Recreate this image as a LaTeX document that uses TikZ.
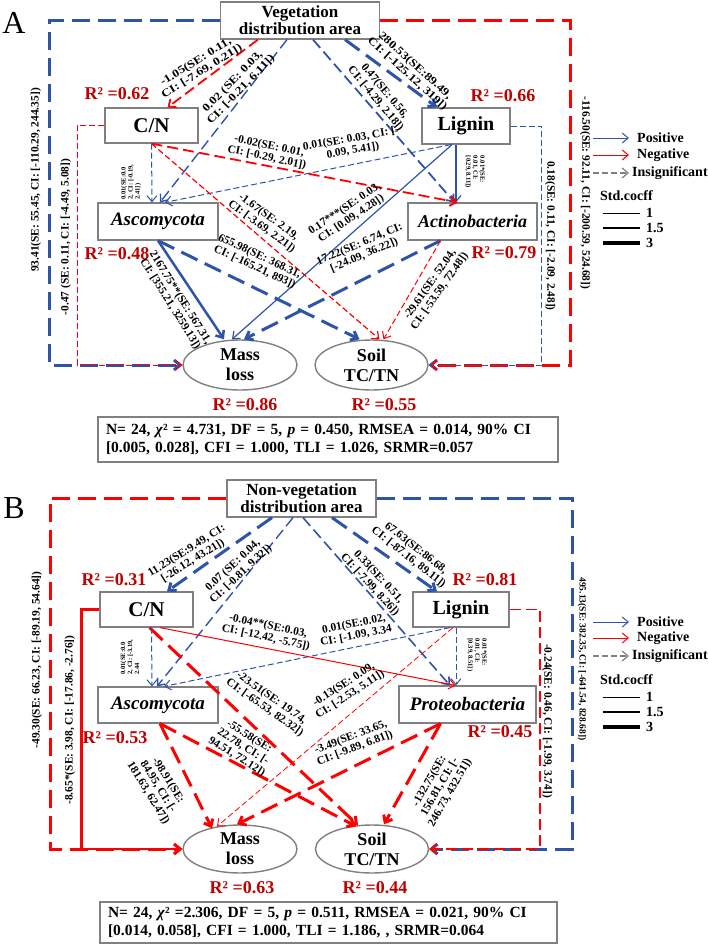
\documentclass[tikz,border=0pt]{standalone}
\usepackage{fontspec}
\setmainfont{Liberation Serif}
\newfontfamily\wfont[FakeStretch=1.2]{Liberation Serif}
\usetikzlibrary{arrows.meta,shapes.geometric,calc}
\definecolor{bl}{RGB}{46,84,168}
\definecolor{rd}{RGB}{255,0,0}
\definecolor{rt}{RGB}{192,0,0}
\definecolor{gb}{RGB}{128,128,128}
\begin{document}
\begin{tikzpicture}[x=1pt,y=-1pt, font=\bfseries,
 box/.style={draw=gb, line width=1.2pt, fill=white, inner sep=0pt, align=center},
 ell/.style={ellipse, draw=gb, line width=1.4pt, fill=white, inner sep=0pt, align=center, minimum width=114pt, minimum height=50pt, font=\bfseries\fontsize{18}{20}\selectfont},
 arr/.style={-{Straight Barb[length=6pt,width=10pt]}},
 thn/.style={line width=1pt},
 med/.style={line width=1.8pt},
 thk/.style={line width=3pt},
 dthn/.style={dash pattern=on 6pt off 3pt},
 dmed/.style={dash pattern=on 11pt off 5pt},
 dthk/.style={dash pattern=on 18pt off 8pt},
 lbl/.style={font=\bfseries\fontsize{11.4}{11.8}\selectfont, align=center, inner sep=0pt},
 wlbl/.style={font=\wfont\bfseries\fontsize{11}{11.5}\selectfont, align=center, inner sep=0pt},
 sml/.style={font=\bfseries\fontsize{6.5}{7}\selectfont, align=left, inner sep=0pt},
 rsq/.style={text=rt, font=\bfseries\fontsize{18}{18}\selectfont, inner sep=0pt},
 lg/.style={font=\bfseries\fontsize{14}{14}\selectfont, inner sep=0pt, anchor=west},
 stat/.style={draw=gb, line width=1.2pt, inner sep=0pt, align=left, font=\bfseries\fontsize{15.5}{18.5}\selectfont},
]
\useasboundingbox (0,0) rectangle (708,946);

%================ PANEL A =================
\node[font=\mdseries\fontsize{32}{32}\selectfont, inner sep=0pt] (labA) at (14,23) {A};
\node[box, minimum width=159pt, minimum height=37pt, font=\bfseries\fontsize{17}{17}\selectfont] (veg) at (300,20.5) {Vegetation\\distribution area};
\node[box, minimum width=93pt, minimum height=35pt, font=\bfseries\fontsize{21}{21}\selectfont] (cn) at (151.5,125.5) {C/N};
\node[box, minimum width=88pt, minimum height=36pt, font=\bfseries\fontsize{20}{20}\selectfont] (lig) at (466,126) {Lignin};
\node[box, minimum width=120pt, minimum height=37pt, font=\bfseries\itshape\fontsize{19}{19}\selectfont] (asco) at (158,221.5) {Ascomycota};
\node[box, minimum width=129pt, minimum height=37pt, font=\bfseries\itshape\fontsize{18}{18}\selectfont] (act) at (472.5,221.5) {Actinobacteria};
\node[ell] (ml) at (240,365) {Mass\\loss};
\node[ell, minimum width=113pt] (soil) at (371.5,365) {Soil\\TC/TN};

\node[rsq] (r1) at (117,94) {R² =0.62};
\node[rsq] (r2) at (503,96) {R² =0.66};
\node[rsq] (r3) at (117,254) {R² =0.48};
\node[rsq] (r4) at (504,253) {R² =0.79};
\node[rsq] (r5) at (245,405) {R² =0.86};
\node[rsq] (r6) at (384,405) {R² =0.55};

\node[stat, minimum width=460pt, minimum height=45pt, text width=444pt] (statA) at (328,439.5)
 {N= 24, \textit{χ}² = 4.731, DF = 5, \textit{p} = 0.450, RMSEA = 0.014, 90\% CI\\{[}0.005, 0.028{]}, CFI = 1.000, TLI = 1.026, SRMR=0.057};

% edges A
\draw[rd, med, dmed, arr] ($(veg.south)+(-42,0)$) -- ($(cn.north)+(16,0)$);
\draw[bl, line width=1.4pt, dmed, arr] ($(veg.south)+(-13,0)$) -- ($(asco.north)+(2,0)$);
\draw[bl, med, dmed, arr] ($(veg.south)+(13,0)$) -- ($(act.north)+(-18,0)$);
\draw[bl, thk, dthk, arr] ($(veg.south)+(45,0)$) -- ($(lig.north)+(-29,0)$);
\draw[bl, line width=1.2pt, arr] ($(lig.south)+(-10,0)$) -- ($(act.north)+(-16.5,0)$);
\draw[bl, thn, dthn, arr] ($(lig.south)+(-15,0)$) -- ($(asco.north)+(7,0)$);
\draw[bl, line width=1.2pt, arr] ($(lig.south)+(-14,0)$) -- ($(ml.north)+(-8,0)$);
\draw[bl, thk, dthk, arr] ($(act.south)+(-32,0)$) -- ($(ml.north)+(4,0)$);
\draw[rd, med, dmed, arr] (cn.south) -- ($(act.north)+(-15,0)$);
\draw[rd, line width=1.2pt, dthn, arr] (cn.south) -- ($(soil.north)+(8,0)$);
\draw[bl, thn, dthn, arr] (cn.south) -- ($(asco.north)+(-6,0)$);
\draw[bl, line width=2.5pt, arr] (asco.south) -- ($(ml.north)+(-16,0)$);
\draw[bl, thk, dthk, arr] (asco.south) -- ($(soil.north)+(-12,0)$);
\draw[rd, thn, dthn, arr] ($(act.south)+(-32,0)$) -- ($(soil.north)+(12,0)$);
\draw[bl, thk, dthk, arr] (veg.west) -| ($(ml.west)+(-133,0)$) -- (ml.west);
\draw[rd, thn, dthn, arr] (cn.west) -| ($(ml.west)+(-105,0)$) -- (ml.west);
\draw[rd, thk, dthk, arr] (veg.east) -| ($(soil.east)+(142,0)$) -- (soil.east);
\draw[bl, thn, dthn, arr] (lig.east) -| ($(soil.east)+(113,0)$) -- (soil.east);

% labels A
\node[wlbl, rotate=32] (e1) at (199,67) {-1.05(SE: 0.11,\\CI: {[}-7.69, 0.21{]})};
\node[wlbl, rotate=46] (e2) at (237,86) {0.02 (SE: 0.03,\\CI: {[}-0.21, 6.11{]})};
\node[wlbl, rotate=-42] (e3) at (411,70) {280.53(SE:89.49,\\CI: {[}-125.12, 319{]})};
\node[lbl, rotate=-50] (e4) at (380,95) {0.47(SE: 0.56,\\CI: {[}-4.29, 2.18{]})};
\node[sml, rotate=-90] (e5) at (475,172) {0.01*(SE:\\0.01, CI:\\{[}0.29, 8.11{]})};
\node[lbl, rotate=10] (e6) at (352,145) {0.01(SE: 0.03, CI: {[}-\\0.09, 5.41{]})};
\node[lbl, rotate=34] (e7) at (348,214) {0.17***(SE: 0.03,\\CI: {[}0.09, 4.28{]})};
\node[lbl, rotate=23] (e8) at (362,250) {17.22(SE: 6.74, CI:\\{[}-24.09, 36.22{]})};
\node[lbl, rotate=-12] (e9) at (268,152) {-0.02(SE: 0.01,\\CI: {[}-0.29, 2.01{]})};
\node[lbl, rotate=-36] (e10) at (265,222) {-1.67(SE: 2.19,\\CI: {[}-3.69, 2.21{]})};
\node[sml, rotate=90] (e11) at (131,182) {0.01(SE:0.0\\2, CI: {[}-0.19,\\2.41{]})};
\node[lbl, rotate=-58] (e12) at (175,301) {2167.75**(SE: 567.31,\\CI: {[}355.21, 3259.13{]})};
\node[lbl, rotate=-25] (e13) at (257,262) {655.98(SE: 368.31,\\CI: {[}-165.21, 893{]})};
\node[lbl, rotate=55] (e14) at (435,288) {-29.61(SE: 52.04,\\CI: {[}-53.59, 72.48{]})};
\node[lbl, rotate=90] (e15) at (36,180) {93.41(SE: 55.45, CI: {[}-110.29, 244.35{]})};
\node[lbl, rotate=90] (e16) at (66,237) {-0.47 (SE: 0.11, CI: {[}-4.49, 5.08{]})};
\node[lbl, rotate=-90] (e17) at (585,193) {-116.50(SE: 92.11, CI: {[}-200.59, 524.68{]})};
\node[lbl, rotate=-90] (e18) at (550,236) {0.18(SE: 0.11, CI: {[}-2.09, 2.48{]})};

% legend A
\node[lg] (lpA) at (637,138) {Positive};
\node[lg] (lnA) at (637,155) {Negative};
\node[lg] (liA) at (632,173) {Insignificant};
\node[lg] (lsA) at (600,196) {Std.cocff};
\node[lg] (l1A) at (646,213) {1};
\node[lg] (l2A) at (646,228) {1.5};
\node[lg] (l3A) at (646,243) {3};
\draw[bl, thn, arr] ($(lpA.west)+(-44,0)$) -- ($(lpA.west)+(-8,0)$);
\draw[rd, thn, arr] ($(lnA.west)+(-44,0)$) -- ($(lnA.west)+(-8,0)$);
\draw[gb, line width=1.2pt, dash pattern=on 6pt off 3pt, arr] ($(liA.west)+(-39,0)$) -- ($(liA.west)+(-3,0)$);
\draw[line width=1pt] ($(l1A.west)+(-43,0)$) -- ($(l1A.west)+(-6,0)$);
\draw[line width=2.5pt] ($(l2A.west)+(-43,0)$) -- ($(l2A.west)+(-6,0)$);
\draw[line width=4pt] ($(l3A.west)+(-43,0)$) -- ($(l3A.west)+(-6,0)$);

%================ PANEL B =================
\node[font=\mdseries\fontsize{32}{32}\selectfont, inner sep=0pt] (labB) at (14,508) {B};
\node[box, minimum width=149pt, minimum height=37pt, font=\bfseries\fontsize{17}{17}\selectfont] (nveg) at (301.5,498.5) {Non-vegetation\\distribution area};
\node[box, minimum width=93pt, minimum height=35pt, font=\bfseries\fontsize{21}{21}\selectfont] (cn2) at (146.5,609.5) {C/N};
\node[box, minimum width=96pt, minimum height=35pt, font=\bfseries\fontsize{20}{20}\selectfont] (lig2) at (461,609.5) {Lignin};
\node[box, minimum width=120pt, minimum height=36pt, font=\bfseries\itshape\fontsize{19}{19}\selectfont] (asco2) at (158,705) {Ascomycota};
\node[box, minimum width=137pt, minimum height=37pt, font=\bfseries\itshape\fontsize{19}{19}\selectfont] (prot2) at (467.5,704.5) {Proteobacteria};
\node[ell, minimum height=48pt] (ml2) at (240,849) {Mass\\loss};
\node[ell, minimum width=113pt, minimum height=48pt] (soil2) at (372,849) {Soil\\TC/TN};

\node[rsq] (s1) at (114,580) {R² =0.31};
\node[rsq] (s2) at (485,580) {R² =0.81};
\node[rsq] (s3) at (115,738) {R² =0.53};
\node[rsq] (s4) at (500,732) {R² =0.45};
\node[rsq] (s5) at (242,888) {R² =0.63};
\node[rsq] (s6) at (375,888) {R² =0.44};

\node[stat, minimum width=457pt, minimum height=41pt, text width=441pt] (statB) at (328.5,922.5)
 {N= 24, \textit{χ}² =2.306, DF = 5, \textit{p} = 0.511, RMSEA = 0.021, 90\% CI\\{[}0.014, 0.058{]}, CFI = 1.000, TLI = 1.186, , SRMR=0.064};

% edges B
\draw[bl, thk, dthk, arr] ($(nveg.south)+(-29.5,0)$) -- ($(cn2.north)+(20.5,0)$);
\draw[bl, line width=1.4pt, dmed, arr] ($(nveg.south)+(-8.5,0)$) -- ($(asco2.north)+(-1,0)$);
\draw[bl, thk, dthk, arr] ($(nveg.south)+(30.5,0)$) -- ($(lig2.north)+(-24,0)$);
\draw[bl, line width=1.6pt, dmed, arr] ($(nveg.south)+(1.5,0)$) -- ($(prot2.north)+(-17.5,0)$);
\draw[bl, thn, dthn, arr] ($(lig2.south)+(-5,0)$) -- ($(prot2.north)+(-11.5,0)$);
\draw[bl, thn, dthn, arr] ($(lig2.south)+(-11,0)$) -- ($(asco2.north)+(6,0)$);
\draw[rd, line width=0.8pt, dthn, arr] ($(lig2.south)+(-8,0)$) -- ($(ml2.north)+(-23,2)$);
\draw[rd, thk, dthk, arr] ($(prot2.south)+(-27,0)$) -- ($(ml2.north)+(-3,0)$);
\draw[rd, thn, arr] ($(cn2.south)+(13.5,0)$) -- ($(prot2.north)+(-12,0)$);
\draw[rd, thk, dthk, arr] ($(cn2.south)+(3,0)$) -- ($(soil2.north)+(-14,1)$);
\draw[bl, thn, dthn, arr] ($(cn2.south)+(5,0)$) -- ($(asco2.north)+(-6,0)$);
\draw[rd, thk, dthk, arr] ($(asco2.south)+(2,0)$) -- ($(ml2.north)+(-28,4)$);
\draw[rd, thk, dthk, arr] ($(asco2.south)+(2,0)$) -- ($(soil2.north)+(-16,2)$);
\draw[rd, thk, dthk, arr] ($(prot2.south)+(-27,0)$) -- ($(soil2.north)+(12,0)$);
\draw[rd, thk, dthk, arr] (nveg.west) -| ($(ml2.west)+(-132,0)$) -- (ml2.west);
\draw[rd, line width=2.5pt, arr] (cn2.west) -| ($(ml2.west)+(-101,0)$) -- (ml2.west);
\draw[bl, thk, dthk, arr] (nveg.east) -| ($(soil2.east)+(143.5,0)$) -- (soil2.east);
\draw[rd, med, dmed, arr] (lig2.east) -| ($(soil2.east)+(110.5,0)$) -- (soil2.east);

% labels B
\node[lbl, rotate=32] (f1) at (190,556) {11.23(SE:9.49, CI:\\{[}-26.12, 43.21{]})};
\node[lbl, rotate=43] (f2) at (237,570) {0.07 (SE: 0.04,\\CI: {[}-0.81, 9.32{]})};
\node[lbl, rotate=-38] (f3) at (412,553) {67.63(SE:86.68,\\CI: {[}-87.16, 89.11{]})};
\node[lbl, rotate=-47] (f4) at (374,581) {0.33(SE: 0.51,\\CI: {[}-7.99, 8.26{]})};
\node[sml, rotate=-90] (f5) at (477,655) {0.01*(SE:\\0.01, CI:\\{[}0.39, 8.51{]})};
\node[lbl, rotate=11] (f6) at (355,630) {0.01(SE:0.02,\\CI: {[}-1.09, 3.34};
\node[lbl, rotate=33] (f7) at (347,690) {-0.13(SE: 0.09,\\CI: {[}-2.53, 5.11{]})};
\node[lbl, rotate=21] (f8) at (353,743) {-3.49(SE: 33.65,\\CI: {[}-9.89, 6.81{]})};
\node[lbl, rotate=-12] (f9) at (267,632) {-0.04**(SE:0.03,\\CI: {[}-12.42, -5.75{]})};
\node[lbl, rotate=-35] (f10) at (268,703) {-23.51(SE: 19.74,\\CI: {[}-65.53, 82.32{]})};
\node[sml, rotate=90] (f11) at (130,657) {0.01(SE:0.0\\2, CI: {[}-3.19,\\2.44};
\node[lbl, rotate=-58] (f12) at (158,787) {-98.91(SE:\\84.95, CI: {[}-\\181.63, 62.47{]})};
\node[lbl, rotate=-32] (f13) at (243,747) {-55.58(SE:\\22.78, CI: {[}-\\94.51, 72.12{]})};
\node[lbl, rotate=60] (f14) at (440,787) {-132.75(SE:\\156.81, CI: {[}-\\246.73, 432.51{]})};
\node[lbl, rotate=90] (f15) at (37,660) {-49.30(SE: 66.23, CI: {[}-89.19, 54.64{]})};
\node[lbl, rotate=90] (f16) at (70,720) {-8.65*(SE: 3.98, CI: {[}-17.86, -2.76{]})};
\node[lbl, rotate=-90, font=\bfseries\fontsize{9.5}{10}\selectfont] (f17) at (582,659) {495.13(SE: 382.35, CI: {[}-641.54, 828.68{]})};
\node[lbl, rotate=-90] (f18) at (547,721) {-0.24(SE: 0.46, CI: {[}-1.99, 3.74{]})};

% legend B
\node[lg] (lpB) at (637,622) {Positive};
\node[lg] (lnB) at (637,638) {Negative};
\node[lg] (liB) at (632,656) {Insignificant};
\node[lg] (lsB) at (600,680) {Std.cocff};
\node[lg] (l1B) at (646,697) {1};
\node[lg] (l2B) at (646,712) {1.5};
\node[lg] (l3B) at (646,727) {3};
\draw[bl, thn, arr] ($(lpB.west)+(-44,0)$) -- ($(lpB.west)+(-8,0)$);
\draw[rd, thn, arr] ($(lnB.west)+(-44,0)$) -- ($(lnB.west)+(-8,0)$);
\draw[gb, line width=1.2pt, dash pattern=on 6pt off 3pt, arr] ($(liB.west)+(-39,0)$) -- ($(liB.west)+(-3,0)$);
\draw[line width=1pt] ($(l1B.west)+(-43,0)$) -- ($(l1B.west)+(-6,0)$);
\draw[line width=2.5pt] ($(l2B.west)+(-43,0)$) -- ($(l2B.west)+(-6,0)$);
\draw[line width=4pt] ($(l3B.west)+(-43,0)$) -- ($(l3B.west)+(-6,0)$);
\end{tikzpicture}
\end{document}
